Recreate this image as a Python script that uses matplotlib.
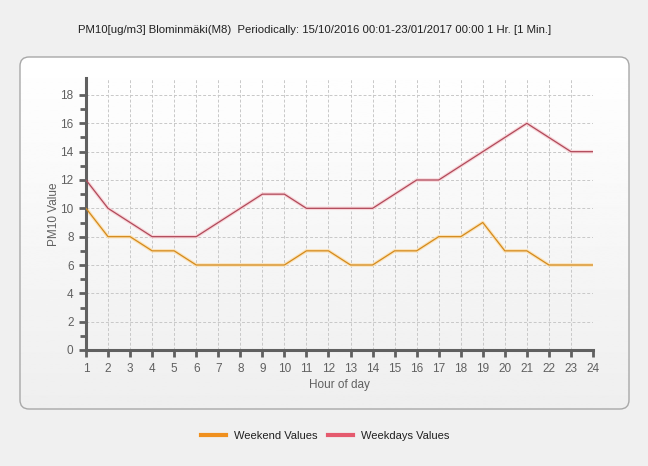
import matplotlib
matplotlib.use('Agg')
import matplotlib.pyplot as plt
from matplotlib.patches import FancyBboxPatch
from matplotlib.lines import Line2D
import numpy as np

hours = list(range(1, 25))
weekend = [10, 8, 8, 7, 7, 6, 6, 6, 6, 6, 7, 7, 6, 6, 7, 7, 8, 8, 9, 7, 7, 6, 6, 6]
weekdays = [12, 10, 9, 8, 8, 8, 9, 10, 11, 11, 10, 10, 10, 10, 11, 12, 12, 13, 14, 15, 16, 15, 14, 14]

title = 'PM10[ug/m3] Blominmäki(M8)  Periodically: 15/10/2016 00:01-23/01/2017 00:00 1 Hr. [1 Min.]'

plt.rcParams['font.family'] = ['Liberation Sans', 'DejaVu Sans']
fig = plt.figure(figsize=(6.48, 4.66), dpi=100)
fig.patch.set_facecolor('#f0f0f0')

# rounded panel with a soft gradient
bg = fig.add_axes([0, 0, 1, 1], zorder=0)
bg.set_xlim(0, 648)
bg.set_ylim(466, 0)
bg.axis('off')
grad = np.linspace(1.0, 0.935, 256).reshape(-1, 1)
panel = FancyBboxPatch((20, 57), 609, 352, boxstyle='round,pad=0,rounding_size=9',
                       facecolor='none', edgecolor='#a8a8a8', linewidth=1.0)
bg.add_patch(panel)
img = bg.imshow(grad, cmap='gray', vmin=0, vmax=1, extent=(20, 629, 409, 57), aspect='auto')
img.set_clip_path(panel)

ax = fig.add_axes([86/648, 1-350/466, (593-86)/648, (350-78)/466], zorder=1)
ax.patch.set_alpha(0)
ax.plot(hours, weekend, color='#fbe2b8', lw=2.5, zorder=2)
ax.plot(hours, weekend, color='#d48a1c', lw=0.9, zorder=3)
ax.plot(hours, weekdays, color='#f8d4d8', lw=2.5, zorder=2)
ax.plot(hours, weekdays, color='#b04a5a', lw=0.9, zorder=3)

ax.set_xlim(1, 24)
ax.set_ylim(0, 19.2)
ax.set_xticks(hours)
ax.set_yticks(range(0, 19, 2))
ax.set_yticks(range(1, 19, 2), minor=True)
ax.grid(True, which='major', color='#c8c8c8', linestyle=(0, (3, 2)), linewidth=0.7)
ax.set_axisbelow(True)

for s in ['top', 'right']:
    ax.spines[s].set_visible(False)
for s in ['left', 'bottom']:
    ax.spines[s].set_color('#606060')
    ax.spines[s].set_linewidth(2.2)

ax.tick_params(axis='both', which='major', direction='out', length=5, width=2, color='#606060',
               labelsize=8.5, labelcolor='#606060', pad=4)
ax.tick_params(axis='y', which='minor', direction='out', length=4, width=2, color='#606060')

ax.set_xlabel('Hour of day', fontsize=8.5, color='#606060', labelpad=3)
ax.set_ylabel('PM10 Value', fontsize=8.5, color='#606060', labelpad=0)

fig.text(315/648, 1-30/466, title, ha='center', va='center', fontsize=8.2, color='#202020')

handles = [Line2D([], [], color='#f0901e', lw=3),
           Line2D([], [], color='#e55a6e', lw=3)]
fig.legend(handles, ['Weekend Values', 'Weekdays Values'], loc='center',
           bbox_to_anchor=(325/648, 1-436/466), ncol=2, frameon=False, fontsize=8,
           handlelength=2.25, columnspacing=1.0, handletextpad=0.7, labelcolor='#202020')

fig.savefig('out.png', dpi=100, facecolor=fig.get_facecolor())
